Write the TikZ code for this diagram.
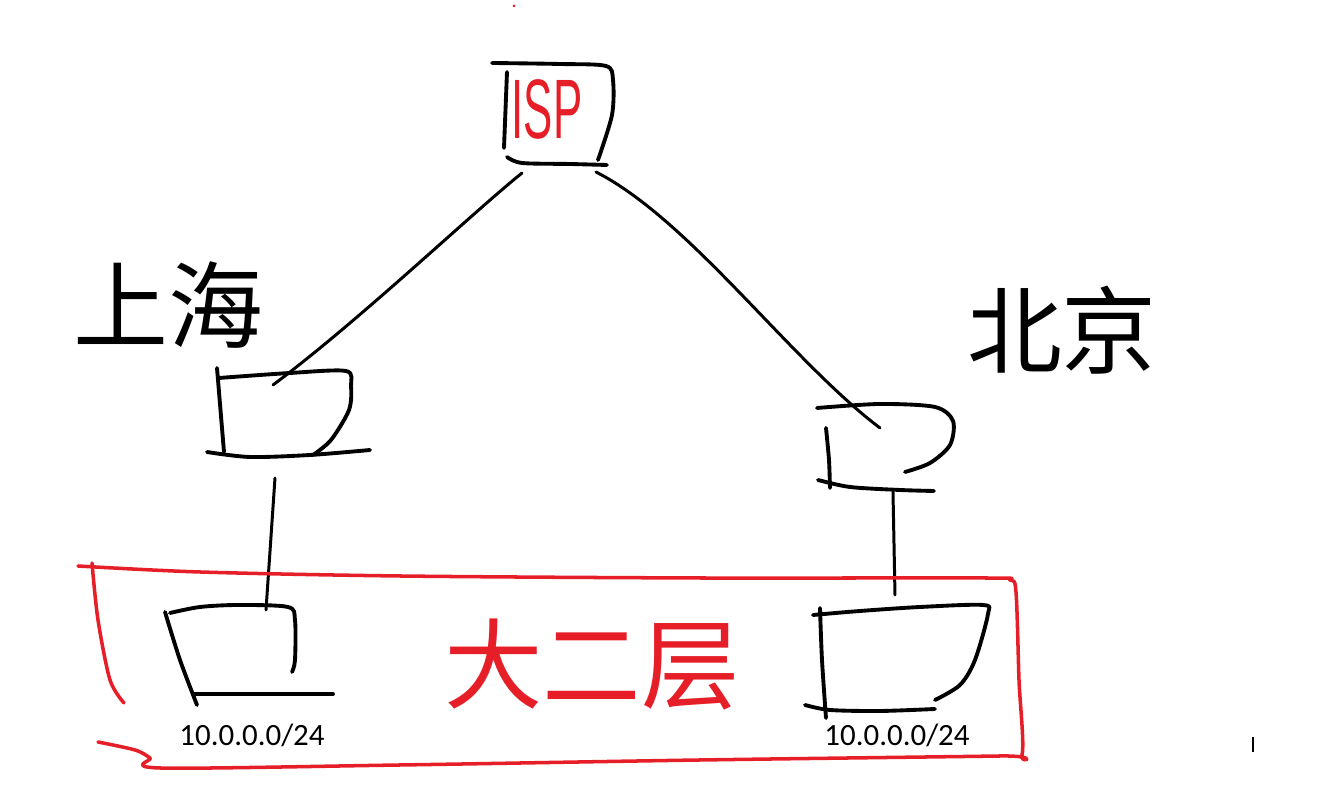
\documentclass[tikz,border=0pt]{standalone}
\usepackage{fontspec}
\usepackage{tikz}
\usetikzlibrary{positioning}
\newfontfamily\cjk{Noto Sans CJK SC}
\newfontfamily\lbl{Carlito}
\newfontfamily\hand{Liberation Sans}
\definecolor{pen}{RGB}{230,30,40}

\begin{document}
\begin{tikzpicture}[
            x=0.01cm, y=-0.01cm,
            sketch/.style={draw=black, line width=1.1pt, line cap=round, line join=round},
            link/.style={draw=black, line width=0.85pt, line cap=round},
            zone/.style={draw=pen, line width=1pt, line cap=round, line join=round},
            dev/.style={inner sep=0pt, minimum width=1.1cm, minimum height=0.8cm},
            addr/.style={font=\lbl\fontsize{8.8}{10}\selectfont, inner sep=0pt},
            city/.style={font=\cjk\fontsize{27}{30}\selectfont, inner sep=0pt}
        ]
        \useasboundingbox (0,0) rectangle (1341,807);

        % devices
        \node[dev, font=\hand\fontsize{24}{26}\selectfont, text=pen] (ISP) at (547,109) {\scalebox{0.52}[1]{ISP}};
        \node[dev] (SH) at (288,412) {};
        \node[dev] (BJ) at (885,448) {};
        \node[dev] (SWL) at (250,652) {};
        \node[dev] (SWR) at (898,660) {};

        % hand drawn outlines
        \draw[sketch] plot[smooth] coordinates {(492,63) (560,64) (606,66) (613,80) (612,115) (598,160)};
        \draw[sketch] (507,72) -- (504,148);
        \draw[sketch] plot[smooth] coordinates {(507,157) (522,163) (570,164) (607,165)};

        \draw[sketch] plot[smooth] coordinates {(219,378) (290,373) (346,371) (351,386) (349,410) (331,440) (313,455)};
        \draw[sketch] (217,368) -- (224,452);
        \draw[sketch] plot[smooth] coordinates {(207,452) (250,457) (310,455) (370,450)};

        \draw[sketch] plot[smooth] coordinates {(817,408) (880,404) (935,407) (953,421) (950,445) (930,463) (905,472)};
        \draw[sketch] plot[smooth] coordinates {(826,428) (829,460) (830,488)};
        \draw[sketch] plot[smooth] coordinates {(818,480) (850,487) (900,490) (934,491)};

        \draw[sketch] plot[smooth] coordinates {(170,613) (200,607) (238,605) (288,607) (295,620) (295,660) (292,672)};
        \draw[sketch] plot[smooth] coordinates {(165,612) (180,660) (197,705)};
        \draw[sketch] (194,694) -- (333,694);

        \draw[sketch] plot[smooth] coordinates {(813,615) (860,611) (920,607) (983,605) (988,614) (975,660) (960,685) (935,700)};
        \draw[sketch] plot[smooth] coordinates {(820,608) (822,660) (826,718)};
        \draw[sketch] plot[smooth] coordinates {(805,705) (830,710) (880,711) (935,709)};

        % ports
        \coordinate (ISP-a) at (522,173);
        \coordinate (ISP-b) at (596,172);
        \coordinate (SH-a) at (273,385);
        \coordinate (SH-b) at (275,478);
        \coordinate (BJ-a) at (880,428);
        \coordinate (BJ-b) at (893,492);
        \coordinate (SWL-a) at (266,610);
        \coordinate (SWR-a) at (895,595);

        % links
        \draw[link] (ISP-a) .. controls (470,215) and (360,320) .. (SH-a);
        \draw[link] (ISP-b) .. controls (690,220) and (790,360) .. (BJ-a);
        \draw[link] (SH-b) -- (SWL-a);
        \draw[link] (BJ-b) -- (SWR-a);

        % labels
        \node[city] (SHname) at (168,305) {上海};
        \node[city] (BJname) at (1062,330) {北京};
        \node[addr] (SWLaddr) at (252,735) {10.0.0.0/24};
        \node[addr] (SWRaddr) at (897,735) {10.0.0.0/24};
        \node[city, text=pen, font=\cjk\fontsize{28}{32}\selectfont] (L2) at (592,665) {大二层};

        % layer 2 zone
        \draw[zone] plot[smooth] coordinates {(78,566) (200,572) (400,576) (700,578) (985,578) (1010,580) (1016,592) (1019,680) (1022,755) (1000,756) (700,760) (400,765) (160,768) (150,758) (135,750) (98,742)};
        \draw[zone] plot[smooth] coordinates {(92,563) (98,620) (110,680) (124,703)};
        \fill[pen] (514,6) circle (1.5);

        \draw[black, line width=0.4pt] (1253,737) -- (1253,752);
    \end{tikzpicture}
\end{document}
